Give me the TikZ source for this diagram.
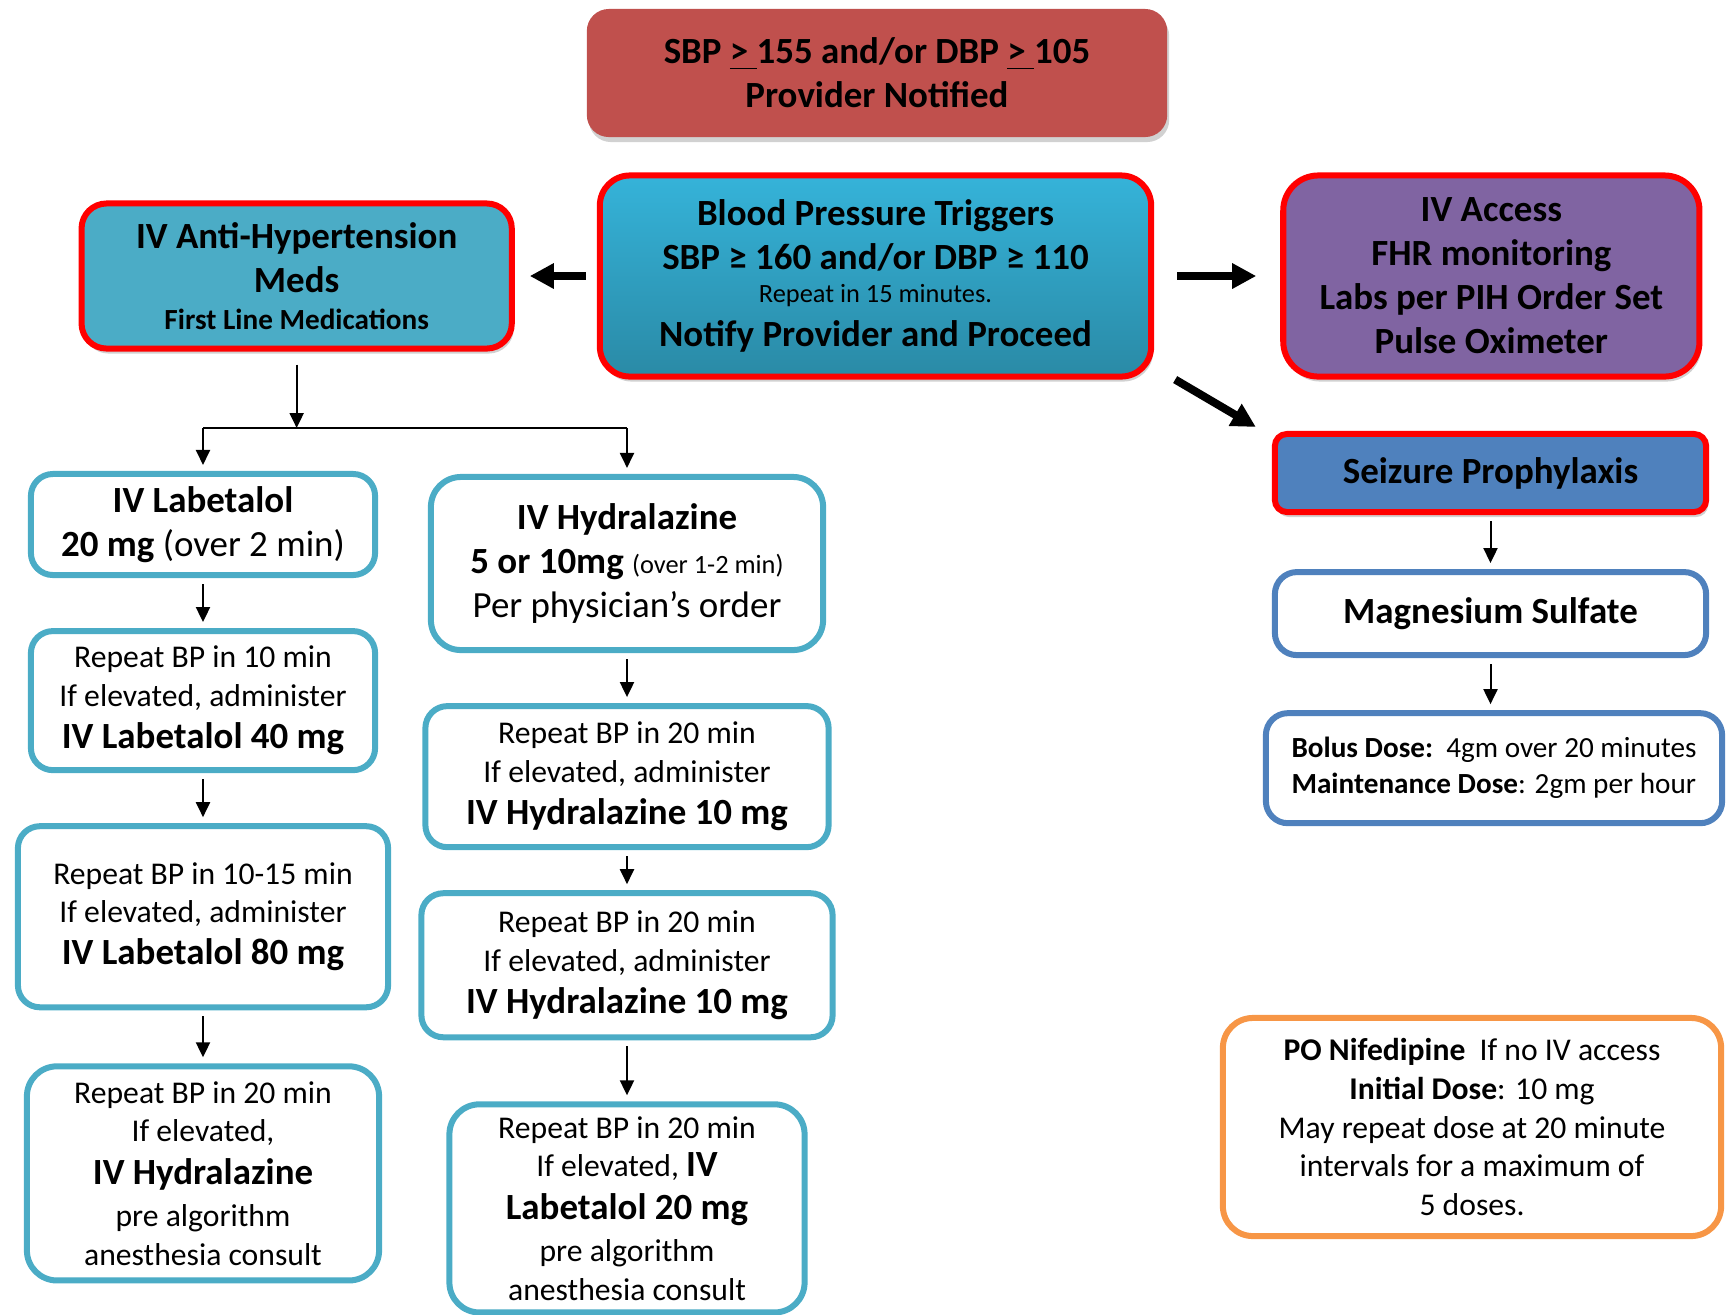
\documentclass[tikz,border=0pt]{standalone}
\usepackage{fontspec}
\setmainfont{Carlito}
\usetikzlibrary{arrows.meta,positioning,shadows}

\definecolor{notered}{HTML}{C0504D}
\definecolor{trigtop}{HTML}{35B3D9}
\definecolor{trigbot}{HTML}{2A8AA6}
\definecolor{antiteal}{HTML}{4BACC6}
\definecolor{accpurple}{HTML}{8064A2}
\definecolor{seizblue}{HTML}{4F81BD}
\definecolor{medteal}{HTML}{4BACC6}
\definecolor{niforange}{HTML}{F79646}

\newcommand{\sizeL}{\fontsize{10.5}{12.5}\selectfont}
\newcommand{\sizeM}{\fontsize{9}{11}\selectfont}
\newcommand{\sizeS}{\fontsize{8.3}{10.2}\selectfont}
\newcommand{\sizeXS}{\fontsize{7.5}{9}\selectfont}

\begin{document}
\begin{tikzpicture}[x=0.01cm, y=-0.01cm,
    every node/.style={align=center, inner sep=2pt},
    softshadow/.style={drop shadow={shadow xshift=0.02cm, shadow yshift=-0.05cm, opacity=0.3, fill=black!60}},
    notified/.style={rectangle, rounded corners=0.22cm, fill=notered, font=\sizeL\bfseries,
                     minimum width=5.80cm, minimum height=1.28cm, softshadow},
    redbox/.style={rectangle, draw=red, line width=0.06cm, rounded corners=0.3cm,
                   font=\sizeL\bfseries, softshadow},
    medbox/.style={rectangle, draw=medteal, line width=0.06cm, rounded corners=0.22cm,
                   fill=white, font=\sizeM},
    arrow/.style={-{Triangle[length=0.15cm, width=0.14cm]}, line width=0.02cm,
                  shorten <=0.06cm, shorten >=0.06cm},
    bigarrow/.style={-{Triangle[length=0.24cm, width=0.24cm]}, line width=0.08cm}
]
\useasboundingbox (0,0) rectangle (1727,1314);

% top row
\node[notified] (notice) at (877,73) {SBP \underline{> }155 and/or DBP \underline{> }105\\Provider Notified};
\node[redbox, top color=trigtop, bottom color=trigbot, minimum width=5.51cm, minimum height=2.01cm]
    (trig) at (875.5,276) {Blood Pressure Triggers\\SBP ≥ 160 and/or DBP ≥ 110\\[-3pt]
    {\sizeXS\mdseries Repeat in 15 minutes.}\\Notify Provider and Proceed};
\node[redbox, fill=antiteal, rounded corners=0.25cm, minimum width=4.30cm, minimum height=1.45cm,
    left=0.82cm of trig] (anti) {IV Anti-Hypertension\\Meds\\[-2pt]{\sizeS First Line Medications}};
\node[redbox, fill=accpurple, rounded corners=0.35cm, minimum width=4.16cm, minimum height=2.01cm,
    right=1.26cm of trig] (access) {IV Access\\FHR monitoring\\Labs per PIH Order Set\\Pulse Oximeter};

% seizure column
\node[redbox, fill=seizblue, rounded corners=0.12cm, minimum width=4.31cm, minimum height=0.78cm]
    (seiz) at (1490.5,473) {Seizure Prophylaxis};
\node[medbox, draw=seizblue, font=\sizeL\bfseries, minimum width=4.31cm, minimum height=0.83cm,
    below=0.54cm of seiz] (mag) {Magnesium Sulfate};
\node[medbox, draw=seizblue, align=left, font=\sizeS, minimum width=4.56cm, minimum height=1.10cm,
    below=0.52cm of mag, xshift=0.035cm] (bolus)
    {\textbf{Bolus Dose:}~~4gm over 20 minutes\\\textbf{Maintenance Dose}: 2gm per hour};
\node[medbox, draw=niforange, rounded corners=0.3cm, minimum width=4.98cm, minimum height=2.18cm]
    (nif) at (1472,1127) {\textbf{PO Nifedipine}~~If no IV access\\\textbf{Initial Dose}: 10 mg\\
    May repeat dose at 20 minute\\intervals for a maximum of\\5 doses.};

% labetalol column
\node[medbox, font=\sizeL, minimum width=3.44cm, minimum height=1.01cm] (lab1) at (203,524.5)
    {\textbf{IV Labetalol}\\\textbf{20 mg} (over 2 min)};
\node[medbox, minimum width=3.44cm, minimum height=1.39cm, below=0.50cm of lab1] (rep10)
    {Repeat BP in 10 min\\If elevated, administer\\[1pt]{\sizeL\bfseries IV Labetalol 40 mg}};
\node[medbox, minimum width=3.70cm, minimum height=1.81cm, below=0.50cm of rep10] (rep1015)
    {Repeat BP in 10-15 min\\If elevated, administer\\[1pt]{\sizeL\bfseries IV Labetalol 80 mg}};
\node[medbox, rounded corners=0.3cm, minimum width=3.52cm, minimum height=2.14cm, below=0.53cm of rep1015] (rep20h)
    {Repeat BP in 20 min\\If elevated,\\[1pt]{\sizeL\bfseries IV Hydralazine}\\[1pt]pre algorithm\\anesthesia consult};

% hydralazine column
\node[medbox, font=\sizeL, rounded corners=0.3cm, minimum width=3.92cm, minimum height=1.73cm] (hyd1) at (627,563.5)
    {\textbf{IV Hydralazine}\\\textbf{5 or 10mg} {\sizeXS (over 1-2 min)}\\Per physician’s order};
\node[medbox, minimum width=4.03cm, minimum height=1.41cm, below=0.50cm of hyd1] (rep20a)
    {Repeat BP in 20 min\\If elevated, administer\\[1pt]{\sizeL\bfseries IV Hydralazine 10 mg}};
\node[medbox, minimum width=4.11cm, minimum height=1.44cm, below=0.40cm of rep20a] (rep20b)
    {Repeat BP in 20 min\\If elevated, administer\\[1pt]{\sizeL\bfseries IV Hydralazine 10 mg}};
\node[medbox, rounded corners=0.3cm, minimum width=3.55cm, minimum height=2.08cm, below=0.61cm of rep20b] (rep20l)
    {Repeat BP in 20 min\\If elevated, {\sizeL\bfseries IV}\\[1pt]{\sizeL\bfseries Labetalol 20 mg}\\[1pt]pre algorithm\\anesthesia consult};

% connectors
\draw[bigarrow, shorten <=0.11cm, shorten >=0.15cm] (trig.west) -- (anti.east);
\draw[bigarrow, shorten <=0.23cm, shorten >=0.24cm] (trig.east) -- (access.west);
\draw[bigarrow] ([xshift=0.21cm]trig.south east) -- ([xshift=-0.16cm, yshift=0.04cm]seiz.north west);

\coordinate (fork) at (297,428);
\draw[arrow, shorten <=0.13cm, shorten >=0cm] (anti.south) -- (anti.south |- fork);
\draw[line width=0.02cm] (lab1 |- fork) -- (hyd1 |- fork);
\draw[arrow, shorten <=0cm] (lab1 |- fork) -- (lab1.north);
\draw[arrow, shorten <=0cm] (hyd1 |- fork) -- (hyd1.north);

\foreach \a/\b in {lab1/rep10, rep10/rep1015, rep1015/rep20h,
    hyd1/rep20a, rep20a/rep20b, rep20b/rep20l, seiz/mag, mag/bolus}
    \draw[arrow] (\a.south) -- (\a.south |- \b.north);
\end{tikzpicture}
\end{document}
